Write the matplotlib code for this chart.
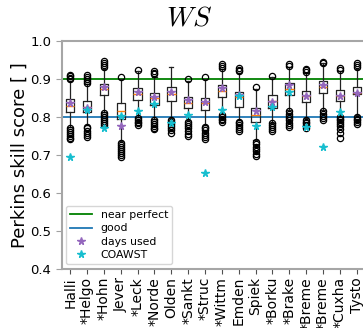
import numpy as np
import matplotlib
matplotlib.use('Agg')
import matplotlib.pyplot as plt
from matplotlib.lines import Line2D

plt.rcParams['mathtext.fontset'] = 'cm'

# station names (tick labels)
stations = ['Halli', '*Helgo', '*Hohn', 'Jever', '*Leck', '*Norde', 'Olden', '*Sankt', '*Struc',
            '*Wittm', 'Emden', 'Spiek', '*Borku', '*Brake', '*Breme', '*Breme', '*Cuxha', 'Tysto']

# box statistics
q1 = [0.811, 0.811, 0.857, 0.793, 0.844, 0.831, 0.842, 0.822, 0.818,
      0.853, 0.826, 0.787, 0.824, 0.857, 0.838, 0.862, 0.840, 0.859]
med = [0.828, 0.826, 0.872, 0.815, 0.859, 0.848, 0.860, 0.835, 0.835,
       0.868, 0.851, 0.804, 0.841, 0.872, 0.855, 0.879, 0.855, 0.863]
q3 = [0.846, 0.842, 0.886, 0.837, 0.875, 0.862, 0.877, 0.851, 0.848,
      0.883, 0.864, 0.822, 0.857, 0.888, 0.868, 0.894, 0.870, 0.877]
whislo = [0.774, 0.778, 0.813, 0.735, 0.800, 0.795, 0.796, 0.790, 0.778,
          0.809, 0.790, 0.739, 0.783, 0.818, 0.796, 0.818, 0.804, 0.804]
whishi = [0.895, 0.885, 0.925, 0.900, 0.920, 0.905, 0.930, 0.895, 0.900,
          0.925, 0.915, 0.872, 0.905, 0.930, 0.915, 0.940, 0.920, 0.925]

# outliers above / below the whiskers
fliers_hi = [[0.898, 0.902, 0.906, 0.909], [0.888, 0.893, 0.898, 0.904, 0.909],
             [0.930, 0.936, 0.941, 0.946], [0.905], [0.924], [0.911, 0.916, 0.921], [],
             [0.899], [0.905], [0.929, 0.934, 0.939], [0.919, 0.924, 0.928], [0.878],
             [0.908], [0.934, 0.938], [0.918, 0.922, 0.926], [0.940, 0.945],
             [0.922, 0.927], [0.930, 0.935, 0.940]]
fliers_lo = [[0.770, 0.765, 0.760, 0.755, 0.750, 0.745, 0.740],
             [0.774, 0.769, 0.763, 0.757, 0.751, 0.746],
             [0.809, 0.804, 0.799, 0.794, 0.789, 0.784, 0.778],
             [0.730, 0.725, 0.720, 0.715, 0.710, 0.705, 0.700, 0.695],
             [0.797, 0.792, 0.787, 0.782, 0.778],
             [0.791, 0.786, 0.781, 0.776, 0.771, 0.767],
             [0.791, 0.786, 0.781, 0.776, 0.770, 0.764, 0.758],
             [0.786, 0.781, 0.775, 0.769, 0.762, 0.755, 0.748],
             [0.774, 0.769, 0.764, 0.758, 0.752, 0.746, 0.740],
             [0.805, 0.800, 0.795, 0.790, 0.785],
             [0.787, 0.782, 0.777, 0.772, 0.767, 0.762],
             [0.733, 0.727, 0.721, 0.715, 0.709, 0.703, 0.697],
             [0.783, 0.778, 0.773, 0.768, 0.763],
             [0.814, 0.808, 0.802, 0.796, 0.790, 0.784, 0.778, 0.772],
             [0.792, 0.787, 0.782, 0.777, 0.771],
             [0.814, 0.808, 0.802, 0.796, 0.790],
             [0.800, 0.795, 0.790, 0.785, 0.780, 0.775, 0.768, 0.758, 0.745],
             [0.800, 0.795, 0.790, 0.785, 0.780]]

# star markers
days_used = [0.837, 0.823, 0.879, 0.776, 0.864, 0.852, 0.864, 0.844, 0.838,
             0.875, 0.857, 0.815, 0.838, 0.883, 0.855, 0.883, 0.855, 0.861]
coawst = [0.695, 0.818, 0.771, 0.802, 0.815, 0.833, 0.783, 0.804, 0.653,
          0.818, 0.854, 0.776, 0.826, 0.866, 0.774, 0.721, 0.811, np.nan]

near_perfect = 0.9
good = 0.8

fig = plt.figure(figsize=(3.63, 3.28), dpi=100)
# axes run out past the right edge of the picture (cropped original)
ax = fig.add_axes([0.170, 0.181, 0.836, 0.695])

stats = []
for i in range(len(stations)):
    stats.append({'med': med[i], 'q1': q1[i], 'q3': q3[i],
                  'whislo': whislo[i], 'whishi': whishi[i],
                  'fliers': fliers_hi[i] + fliers_lo[i]})

pos = np.arange(1, len(stations) + 1)
ax.bxp(stats, positions=pos, widths=0.5,
       boxprops=dict(color='#222222', linewidth=0.9),
       whiskerprops=dict(color='#222222', linewidth=0.9),
       capprops=dict(color='#222222', linewidth=0.9),
       medianprops=dict(color='#ff7f0e', linewidth=1.0),
       flierprops=dict(marker='o', markerfacecolor='none', markeredgecolor='black',
                       markersize=4.5, markeredgewidth=0.9))

ax.axhline(near_perfect, color='green', linewidth=1.3, zorder=1)
ax.axhline(good, color='#1f77b4', linewidth=1.3, zorder=1)

ax.plot(pos, days_used, linestyle='none', marker='*', color='#9467bd', markersize=5.5, zorder=5)
ax.plot(pos, coawst, linestyle='none', marker='*', color='#17becf', markersize=5.5, zorder=6)

ax.set_xlim(0.5, len(stations) + 0.5)
ax.set_ylim(0.4, 1.0)
ax.set_yticks([0.4, 0.5, 0.6, 0.7, 0.8, 0.9, 1.0])
ax.set_xticks(pos)
ax.set_xticklabels(stations, rotation=90, fontsize=10)
ax.tick_params(axis='y', labelsize=9.5, color='#a0a0a0', length=4)
ax.tick_params(axis='x', color='#505050', length=3.5, pad=2.5)

ax.set_ylabel('Perkins skill score [ ]', fontsize=13)
ax.yaxis.set_label_coords(-0.11, 0.5)

for spine in ax.spines.values():
    spine.set_color('#a6a6a6')
    spine.set_linewidth(1.5)

# legend (lower left)
handles = [Line2D([], [], color='green', linewidth=1.3),
           Line2D([], [], color='#1f77b4', linewidth=1.3),
           Line2D([], [], linestyle='none', marker='*', color='#9467bd', markersize=5.5),
           Line2D([], [], linestyle='none', marker='*', color='#17becf', markersize=5.5)]
ax.legend(handles, ['near perfect', 'good', 'days used', 'COAWST'],
          loc='lower left', fontsize=7.8, labelspacing=0.3, borderaxespad=0.4)

fig.text(0.521, 0.948, r'$WS$', fontsize=20, ha='center', va='center')

fig.savefig('out.png', dpi=100)
